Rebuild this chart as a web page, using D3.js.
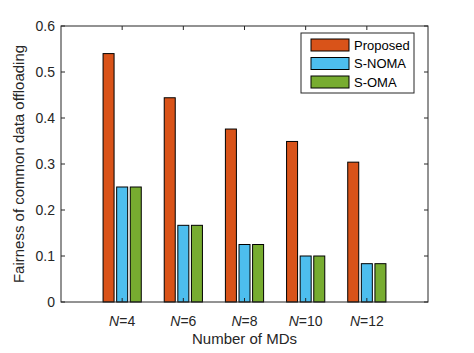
<!DOCTYPE html>
<html>
<head>
<meta charset="utf-8">
<script src="https://cdn.jsdelivr.net/npm/d3@7"></script>
<style>
body { margin: 0; background: #fff; }
text { font-family: "Liberation Sans", Arial, sans-serif; }
</style>
</head>
<body>
<div id="chart"></div>
<script>
var width = 474;
var height = 353;

// data
var categories = ["4", "6", "8", "10", "12"];
var seriesNames = ["Proposed", "S-NOMA", "S-OMA"];
var proposed = [0.540, 0.444, 0.376, 0.349, 0.304];
var snoma = [0.25, 0.1667, 0.125, 0.1, 0.0833];
var soma = [0.25, 0.1667, 0.125, 0.1, 0.0833];
var yTicks = [0, 0.1, 0.2, 0.3, 0.4, 0.5, 0.6];
var colors = ["#D95319", "#4DBEEE", "#77AC30"];

var series = [proposed, snoma, soma];

var mLeft = 61, mRight = 428, mTop = 26, mBottom = 302;

var svg = d3.select("#chart").append("svg")
  .attr("width", width)
  .attr("height", height);

// categories sit at 1..5 on a 0..6 axis like matlab
var x = d3.scaleLinear().domain([0, 6]).range([mLeft, mRight]);
var y = d3.scaleLinear().domain([0, 0.6]).range([mBottom, mTop]);

var barW = 11, step = 13.6;

var g = svg.append("g");
series.forEach(function(vals, si) {
  g.selectAll(".bar" + si)
    .data(vals)
    .enter().append("rect")
    .attr("x", (d, i) => x(i + 1) + (si - 1) * step - barW / 2)
    .attr("y", d => y(d))
    .attr("width", barW)
    .attr("height", d => y(0) - y(d))
    .attr("fill", colors[si])
    .attr("stroke", "#000")
    .attr("stroke-width", 1);
});

// box
svg.append("rect")
  .attr("x", mLeft).attr("y", mTop)
  .attr("width", mRight - mLeft).attr("height", mBottom - mTop)
  .attr("fill", "none")
  .attr("stroke", "#262626")
  .attr("stroke-width", 1);

// y ticks left and right
var tickColor = "#262626";
yTicks.forEach(function(t) {
  svg.append("line").attr("x1", mLeft).attr("x2", mLeft + 4)
    .attr("y1", y(t)).attr("y2", y(t)).attr("stroke", tickColor);
  svg.append("line").attr("x1", mRight).attr("x2", mRight - 4)
    .attr("y1", y(t)).attr("y2", y(t)).attr("stroke", tickColor);
  svg.append("text")
    .attr("x", mLeft - 6).attr("y", y(t))
    .attr("dy", "0.35em")
    .attr("text-anchor", "end")
    .attr("font-size", 14)
    .attr("fill", "#262626")
    .text(t === 0 ? "0" : t.toFixed(1));
});

// x ticks top and bottom
categories.forEach(function(c, i) {
  svg.append("line").attr("x1", x(i + 1)).attr("x2", x(i + 1))
    .attr("y1", mBottom).attr("y2", mBottom - 4).attr("stroke", tickColor);
  svg.append("line").attr("x1", x(i + 1)).attr("x2", x(i + 1))
    .attr("y1", mTop).attr("y2", mTop + 4).attr("stroke", tickColor);
  var t = svg.append("text")
    .attr("x", x(i + 1)).attr("y", mBottom + 24)
    .attr("text-anchor", "middle")
    .attr("font-size", 14)
    .attr("fill", "#262626");
  t.append("tspan").attr("font-style", "italic").text("N");
  t.append("tspan").text("=" + c);
});

svg.append("text")
  .attr("x", (mLeft + mRight) / 2).attr("y", 344)
  .attr("text-anchor", "middle")
  .attr("font-size", 15)
  .attr("fill", "#262626")
  .text("Number of MDs");

svg.append("text")
  .attr("transform", "translate(24," + ((mTop + mBottom) / 2) + ") rotate(-90)")
  .attr("text-anchor", "middle")
  .attr("font-size", 15)
  .attr("fill", "#262626")
  .text("Fairness of common data offloading");

// legend
var legend = svg.append("g");
legend.append("rect")
  .attr("x", 301).attr("y", 33)
  .attr("width", 113).attr("height", 60)
  .attr("fill", "#fff")
  .attr("stroke", "#262626");
seriesNames.forEach(function(name, i) {
  var ly = 39 + i * 18.5;
  legend.append("rect")
    .attr("x", 311).attr("y", ly)
    .attr("width", 38).attr("height", 12)
    .attr("fill", colors[i])
    .attr("stroke", "#000");
  legend.append("text")
    .attr("x", 354).attr("y", ly + 6)
    .attr("dy", "0.35em")
    .attr("font-size", 13)
    .attr("fill", "#000")
    .text(name);
});
</script>
</body>
</html>
